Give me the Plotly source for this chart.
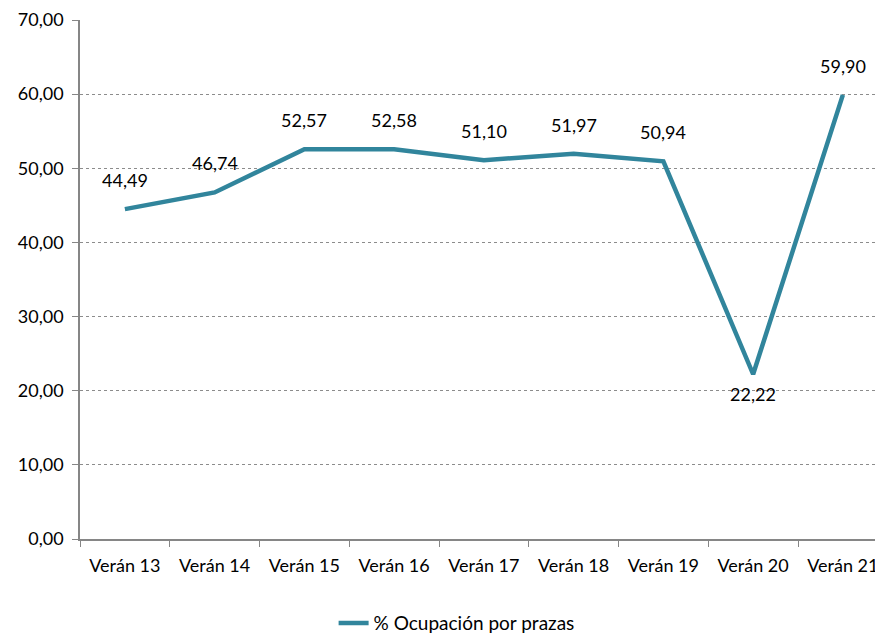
import plotly.graph_objects as go

categories = ["Verán 13", "Verán 14", "Verán 15", "Verán 16", "Verán 17",
              "Verán 18", "Verán 19", "Verán 20", "Verán 21"]
values = [44.49, 46.74, 52.57, 52.58, 51.10, 51.97, 50.94, 22.22, 59.90]
label_below = [False, False, False, False, False, False, False, True, False]
series_name = "% Ocupación por prazas"
y_ticks = [0, 10, 20, 30, 40, 50, 60, 70]

LINE = "#31859C"
AXIS = "#868686"
FONT = "Lato"
FS = 18

fig = go.Figure()
fig.add_trace(go.Scatter(
    x=categories, y=values, mode="lines", name=series_name,
    line=dict(color=LINE, width=4.5),
))

for c, v, below in zip(categories, values, label_below):
    fig.add_annotation(
        x=c, y=v, text=f"{v:.2f}".replace(".", ","),
        showarrow=False, yshift=-20 if below else 29,
        font=dict(family=FONT, size=FS, color="#000000"),
    )

# page body has an 8px default margin; size the figure to fit the window
fig.update_layout(
    width=875, height=627,
    margin=dict(l=72, r=0, t=12, b=96, autoexpand=False),
    paper_bgcolor="white", plot_bgcolor="white",
    separators=",.",
    font=dict(family=FONT, size=FS, color="#000000"),
    showlegend=True,
    legend=dict(orientation="h", xref="paper", yref="paper",
                x=0.469, xanchor="center", y=-0.162, yanchor="middle",
                font=dict(family=FONT, size=19, color="#000000")),
)
fig.update_xaxes(
    type="category", range=[-0.5, 8.447], automargin=False,
    showline=True, linecolor=AXIS, linewidth=1.5,
    ticks="outside", tickson="boundaries", ticklen=6, tickcolor=AXIS,
    showgrid=False, ticklabelstandoff=10,
)
fig.update_yaxes(
    range=[0, 70], tickvals=y_ticks, tickformat=".2f", automargin=False,
    showline=True, linecolor=AXIS, linewidth=1.5,
    ticks="outside", ticklen=6, tickcolor=AXIS,
    showgrid=True, gridcolor="#8c8c8c", griddash="dot", gridwidth=1,
    zeroline=False, ticklabelstandoff=5,
)

fig.write_html("out.html")
